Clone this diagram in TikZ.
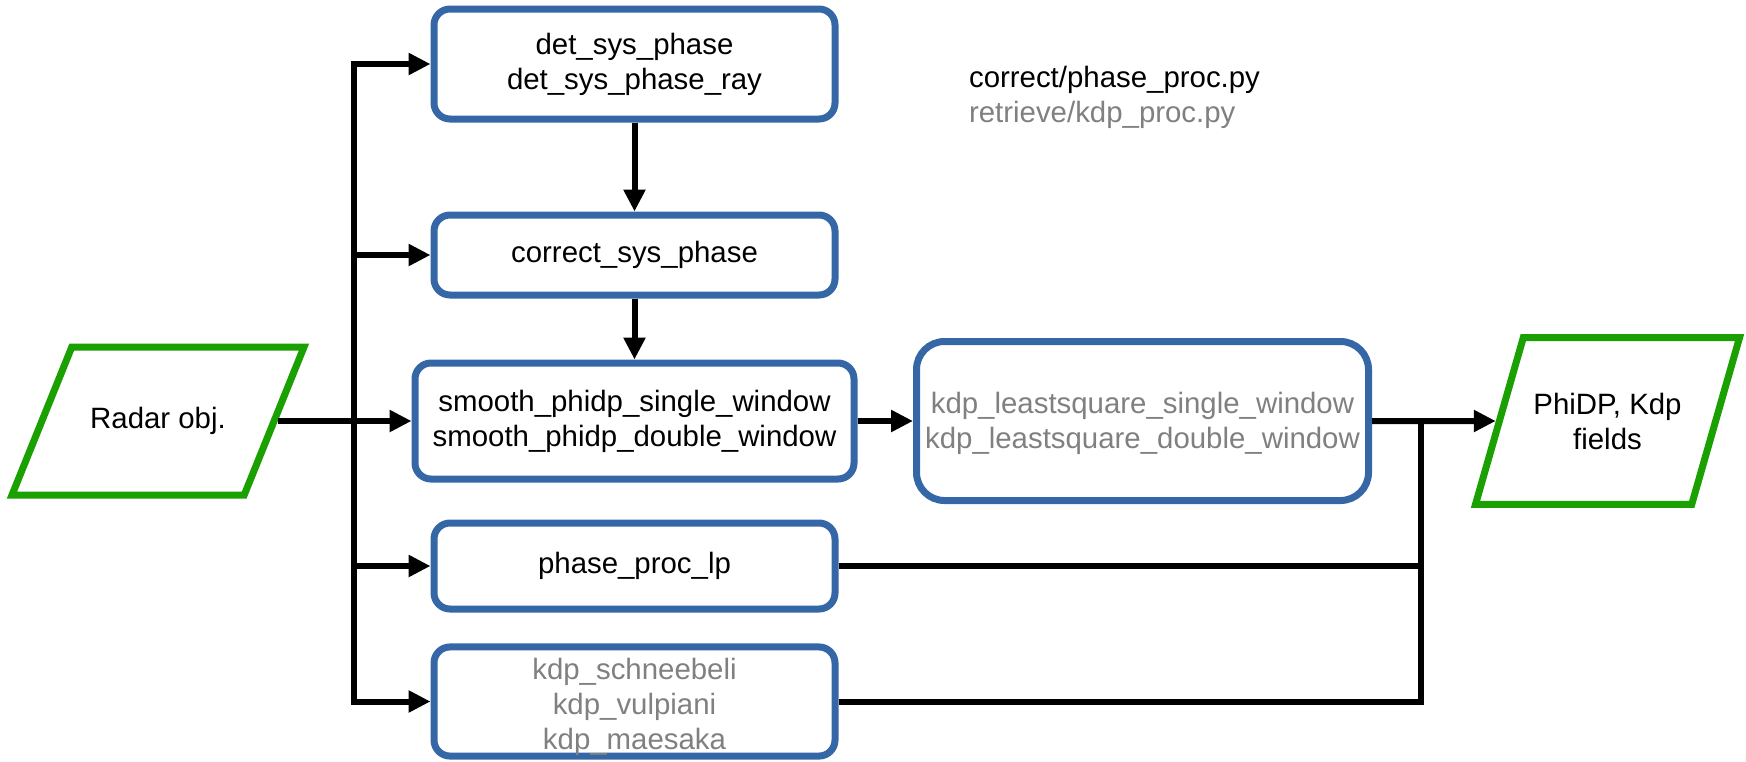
\documentclass[tikz,border=0pt]{standalone}
\usepackage{fontspec}
\setmainfont{Liberation Sans}
\usetikzlibrary{arrows.meta,shapes.geometric}
\definecolor{boxblue}{RGB}{53,103,166}
\definecolor{datagreen}{RGB}{26,160,0}
\definecolor{modgray}{RGB}{128,128,128}
\tikzset{
% Two node styles for the flow chart: routines and radar data
process node/.style={rectangle,rounded corners=8pt,draw=boxblue,line width=3.5pt,align=center,inner sep=0pt,minimum width=200.5pt},
data node/.style={trapezium,trapezium stretches body=true,draw=datagreen,line width=3.5pt,align=center,inner xsep=0pt},
flow line/.style={line width=3pt},
flow arrow/.style={line width=3pt,-{Triangle[length=11pt,width=10.5pt]}}
}

\begin{document}
\begin{tikzpicture}[x=0.5pt,y=-0.5pt,font=\fontsize{14.7pt}{17.5pt}\selectfont]
\useasboundingbox (0,0) rectangle (1746,761);
\node[data node, trapezium left angle=68, trapezium right angle=112, text height=10.5pt, text depth=3pt, inner ysep=30.25pt, minimum width=146pt] (radar) at (158,421) {Radar obj.};
\node[process node, minimum height=55pt] (detphase) at (634.5,64) {det\_sys\_phase\\det\_sys\_phase\_ray};
\node[process node, minimum height=40pt] (corrphase) at (634.5,255) {correct\_sys\_phase};
\node[process node, minimum width=219.5pt, minimum height=58pt] (smooth) at (634.5,421) {smooth\_phidp\_single\_window\\smooth\_phidp\_double\_window};
\node[process node, minimum height=43pt] (lp) at (634.5,566) {phase\_proc\_lp};
\node[process node, minimum height=52pt, text height=51.5pt, text=modgray] (kdpmeth) at (634.5,701.5) {kdp\_schneebeli\\kdp\_vulpiani\\kdp\_maesaka};
\node[process node, rounded corners=14pt, minimum width=226pt, minimum height=79.5pt, text height=31pt, text=modgray] (lsq) at (1142.5,421) {kdp\_leastsquare\_single\_window\\kdp\_leastsquare\_double\_window};
\node[data node, trapezium left angle=74, trapezium right angle=106, inner ysep=27.5pt, minimum width=132pt] (fields) at (1607.5,421) {PhiDP, Kdp\\fields};
\node[anchor=west, align=left] (files) at (962,97) {correct/phase\_proc.py\\\textcolor{modgray}{retrieve/kdp\_proc.py}};
\coordinate (bus) at (354,0);
\coordinate (join) at (1421,421);

% inputs from the radar object
\draw[flow arrow] (radar.east) -- (smooth.west);
\draw[flow line, {Triangle[length=11pt,width=10.5pt]}-{Triangle[length=11pt,width=10.5pt]}] (detphase.west) -- (detphase.west -| bus) -- (kdpmeth.west -| bus) -- (kdpmeth.west);
\draw[flow arrow] (corrphase.west -| bus) -- (corrphase.west);
\draw[flow arrow] (lp.west -| bus) -- (lp.west);
\draw[flow arrow] (detphase) -- (corrphase);
\draw[flow arrow] (corrphase) -- (smooth);
\draw[flow arrow] (smooth) -- (lsq);

% outputs
\draw[flow arrow] (lsq.east) -- (fields.west);
\draw[flow line] (lp.east) -- (lp.east -| join);
\draw[flow line] (kdpmeth.east) -- (kdpmeth.east -| join) -- (join);
\end{tikzpicture}
\end{document}
